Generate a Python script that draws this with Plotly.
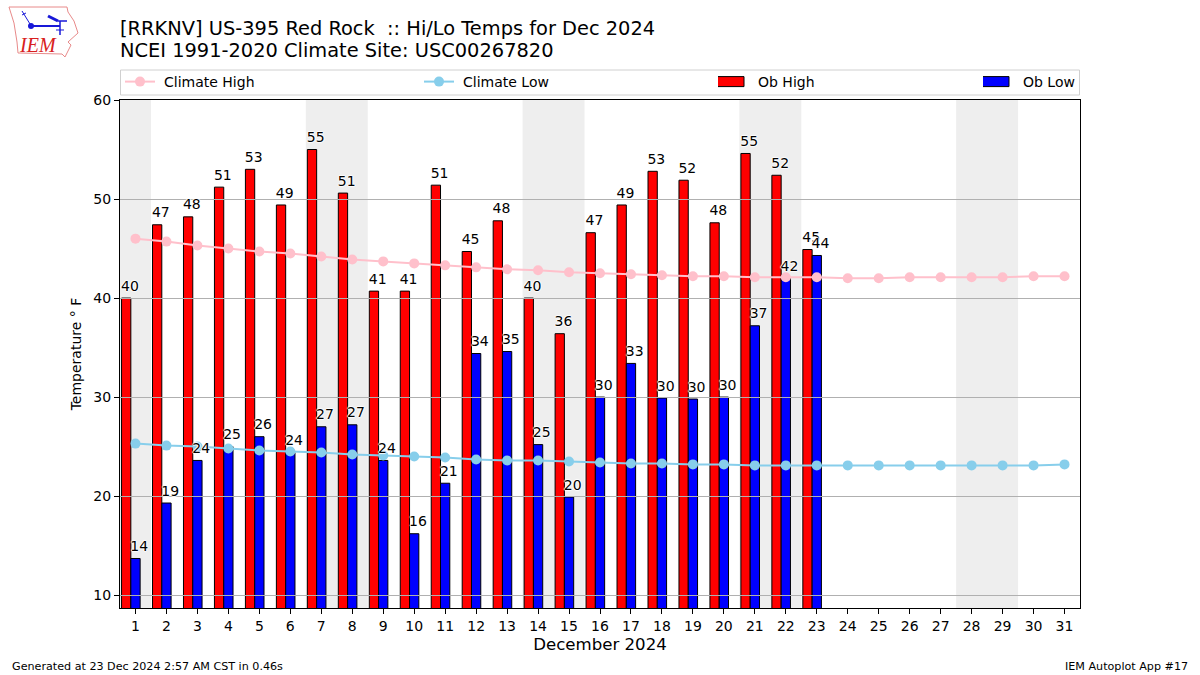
import plotly.graph_objects as go

days = list(range(1, 32))
ob_days = list(range(1, 24))
ob_high = [40.0, 47.4, 48.2, 51.2, 53.0, 49.4, 55.0, 50.6, 40.7, 40.7, 51.4, 44.7, 47.8, 40.0, 36.4, 46.6, 49.4, 52.8, 51.9, 47.6, 54.6, 52.4, 44.9]
ob_low = [13.7, 19.3, 23.6, 25.0, 26.0, 24.4, 27.0, 27.2, 23.6, 16.2, 21.3, 34.4, 34.6, 25.2, 19.9, 30.0, 33.4, 29.9, 29.8, 30.0, 37.2, 42.0, 44.3]
clim_high = [46.0, 45.7, 45.3, 45.0, 44.7, 44.5, 44.2, 43.9, 43.7, 43.5, 43.3, 43.1, 42.9, 42.8, 42.6, 42.5, 42.4, 42.3, 42.2, 42.2, 42.1, 42.1, 42.1, 42.0, 42.0, 42.1, 42.1, 42.1, 42.1, 42.2, 42.2]
clim_low = [25.3, 25.1, 25.0, 24.8, 24.6, 24.5, 24.4, 24.2, 24.1, 24.0, 23.9, 23.7, 23.6, 23.6, 23.5, 23.4, 23.3, 23.3, 23.2, 23.2, 23.1, 23.1, 23.1, 23.1, 23.1, 23.1, 23.1, 23.1, 23.1, 23.1, 23.2]
weekend_spans = [(0.5, 1.5), (6.5, 8.5), (13.5, 15.5), (20.5, 22.5), (27.5, 29.5)]
y_ticks = [10, 20, 30, 40, 50, 60]

W, H = 1200, 675
L, R, T, B = 120, 1080, 100, 608
FONT = "DejaVu Sans"
px = lambda x: (x - L) / (R - L)
py = lambda y: (B - y) / (B - T)

fig = go.Figure()
fig.add_trace(go.Bar(x=[d - 0.3 for d in ob_days], y=ob_high, width=0.3, name="Ob High", legend="legend3",
                     marker=dict(color="#ff0000", line=dict(color="black", width=1))))
fig.add_trace(go.Bar(x=ob_days, y=ob_low, width=0.3, name="Ob Low", legend="legend4",
                     marker=dict(color="#0000ff", line=dict(color="black", width=1))))
for t in y_ticks[:-1]:
    fig.add_trace(go.Scatter(x=[0.5, 31.5], y=[t, t], mode="lines", showlegend=False, hoverinfo="skip",
                             line=dict(color="#b0b0b0", width=1)))
fig.add_trace(go.Scatter(x=days, y=clim_high, name="Climate High", mode="lines+markers", legend="legend",
                         line=dict(color="#ffc0cb", width=2), marker=dict(color="#ffc0cb", size=10)))
fig.add_trace(go.Scatter(x=days, y=clim_low, name="Climate Low", mode="lines+markers", legend="legend2",
                         line=dict(color="#87ceeb", width=2), marker=dict(color="#87ceeb", size=10)))
halo = "white 1px 0px 1px, white -1px 0px 1px, white 0px 1px 1px, white 0px -1px 1px"
fig.add_trace(go.Scatter(x=[d - 0.18 for d in ob_days], y=[v + 0.4 for v in ob_high], mode="text", showlegend=False,
                         text=[f"{v:.0f}" for v in ob_high], textposition="top center", hoverinfo="skip",
                         textfont=dict(family=FONT, size=14, color="black", shadow=halo)))
fig.add_trace(go.Scatter(x=[d + 0.12 for d in ob_days], y=[v + 0.4 for v in ob_low], mode="text", showlegend=False,
                         text=[f"{v:.0f}" for v in ob_low], textposition="top center", hoverinfo="skip",
                         textfont=dict(family=FONT, size=14, color="black", shadow=halo)))

shapes = [dict(type="rect", xref="x", yref="paper", x0=a, x1=b, y0=0, y1=1, layer="below",
               fillcolor="#eeeeee", line=dict(width=0)) for a, b in weekend_spans]
# legend frame
shapes.append(dict(type="rect", xref="paper", yref="paper", x0=px(120.5), x1=px(1079.5), y0=py(95), y1=py(70),
                   fillcolor="white", line=dict(color="#d0d0d0", width=1), layer="below"))


def logo_path(points, close=True):
    s = "M" + " L".join(f"{px(x):.5f},{py(y):.5f}" for x, y in points)
    return s + (" Z" if close else "")


iowa = [(9, 7), (67, 7), (68, 12), (74, 21), (78, 33), (68, 42), (71, 45), (65, 57), (62, 54), (18, 53), (17, 42), (14, 23)]
shapes.append(dict(type="path", xref="paper", yref="paper", path=logo_path(iowa), line=dict(color="#e88a8a", width=1)))
for pts, w in [([(31, 26), (60, 26)], 2), ([(48, 16), (58, 21)], 3), ([(58, 21), (67, 21)], 1.5),
               ([(60, 21), (60, 35)], 1.5), ([(26, 13), (22, 15)], 1), ([(22, 11), (30, 24)], 1),
               ([(56, 30), (64, 30)], 1)]:
    shapes.append(dict(type="path", xref="paper", yref="paper", path=logo_path(pts, False), line=dict(color="#1818d8", width=w)))
shapes.append(dict(type="circle", xref="paper", yref="paper", x0=px(28), x1=px(34), y0=py(29), y1=py(23),
                   fillcolor="#1818d8", line=dict(width=0)))

anns = [
    dict(text="NCEI 1991-2020 Climate Site: USC00267820", xref="paper", yref="paper", x=px(118), y=py(51), xanchor="left",
         yanchor="middle", showarrow=False, font=dict(family=FONT, size=19.4, color="black")),
    dict(text="<i>IEM</i>", xref="paper", yref="paper", x=px(37.5), y=py(45), xanchor="center", yanchor="middle", showarrow=False,
         font=dict(family="Liberation Serif", size=20, color="#d82020")),
    dict(text="Generated at 23 Dec 2024 2:57 AM CST in 0.46s", xref="paper", yref="paper", x=px(10), y=py(666),
         xanchor="left", yanchor="middle", showarrow=False, font=dict(family=FONT, size=11.15, color="black")),
    dict(text="IEM Autoplot App #17", xref="paper", yref="paper", x=px(1190), y=py(666),
         xanchor="right", yanchor="middle", showarrow=False, font=dict(family=FONT, size=11.15, color="black")),
]

legend_common = dict(orientation="v", xref="paper", yref="paper", yanchor="middle", y=py(82),
                     bgcolor="rgba(0,0,0,0)", borderwidth=0, font=dict(family=FONT, size=14, color="black"),
                     itemwidth=30, tracegroupgap=0)

fig.update_layout(
    width=W, height=H, autosize=False, barmode="overlay",
    margin=dict(l=L, r=W - R, t=T, b=H - B, pad=0),
    paper_bgcolor="white", plot_bgcolor="white",
    font=dict(family=FONT, size=14, color="black"),
    title=dict(text="[RRKNV] US-395 Red Rock  :: Hi/Lo Temps for Dec 2024", xref="paper", x=0, xanchor="left",
               yref="container", y=1 - 28 / H, yanchor="middle", font=dict(family=FONT, size=19.4, color="black")),
    xaxis=dict(range=[0.5, 31.5], tickmode="array", tickvals=days, ticktext=[str(d) for d in days], showgrid=False,
               zeroline=False, showline=True, mirror=True, linecolor="black", linewidth=1, ticks="outside", ticklen=5,
               tickcolor="black", title=dict(text="December 2024", font=dict(family=FONT, size=16.6), standoff=5),
               tickfont=dict(family=FONT, size=14)),
    yaxis=dict(range=[8.7, 60], tickmode="array", tickvals=y_ticks, showgrid=False, zeroline=False, showline=True,
               mirror=True, linecolor="black", linewidth=1, ticks="outside", ticklen=5, tickcolor="black",
               title=dict(text="Temperature ° F", font=dict(family=FONT, size=14), standoff=8),
               tickfont=dict(family=FONT, size=14)),
    legend=dict(x=px(124), **legend_common),
    legend2=dict(x=px(423), **legend_common),
    legend3=dict(x=px(718), **legend_common),
    legend4=dict(x=px(983), **legend_common),
    shapes=shapes, annotations=anns, showlegend=True,
)
post = """
document.body.style.margin = '0';
function tidy() {
  document.querySelectorAll('.legendpoints path').forEach(function (p) {
    if (p.classList.contains('legendbar') || p.classList.contains('legendundefined')) {
      p.setAttribute('d', 'M10,5H-18V-5H10Z');
    }
  });
  document.querySelectorAll('.legendlines, .legendsymbols').forEach(function (g) {
    g.setAttribute('transform', 'translate(-4,0)');
  });
  document.querySelectorAll('.scatterlayer .trace').forEach(function (t, i) {
    if (i < 5) { t.querySelectorAll('path.js-line').forEach(function (p) { p.style.shapeRendering = 'crispEdges'; }); }
  });
}
tidy();
setTimeout(tidy, 100);
setTimeout(tidy, 500);
"""
fig.write_html("out.html", config=dict(displayModeBar=False), post_script=post)
